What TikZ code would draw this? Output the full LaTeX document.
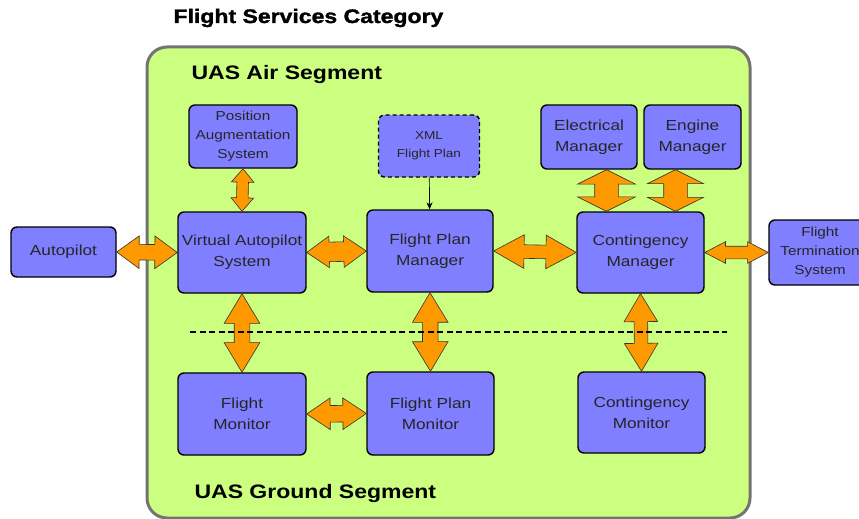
\documentclass[tikz,border=0pt]{standalone}
\usepackage{fontspec}
\setmainfont{Liberation Sans}[FakeStretch=1.18]
\newfontfamily\heavyfont{Liberation Sans}[FakeStretch=1.18,UprightFont=*-Bold,UprightFeatures={FakeBold=1.6}]
\usetikzlibrary{shapes.arrows,calc,arrows.meta}

\definecolor{boxblue}{HTML}{7F7FFF}
\definecolor{panelgreen}{HTML}{CCFF80}
\definecolor{arroworange}{HTML}{FF9900}

\tikzset{
  block/.style={draw=black,line width=1.4pt,fill=boxblue,rounded corners=6pt,
    align=center,inner sep=2pt,text=black!85,font=\fontsize{14.6}{21}\selectfont},
  smallblock/.style={block,font=\fontsize{13}{19}\selectfont},
  seglabel/.style={anchor=west,font=\fontsize{19.5}{23}\bfseries\selectfont},
  blockarrow/.style={double arrow,draw=black!80,line width=0.6pt,fill=arroworange,
    inner xsep=0pt,minimum width=0pt,double arrow head indent=0pt}
}

% fat two-headed arrow: from, to, head width, shaft width, tip angle
\newcommand{\fatarrow}[5]{%
  \path let \p1=(#1), \p2=(#2),
    \n1={veclen(\x2-\x1,\y2-\y1)}, \n2={atan2(\y2-\y1,\x2-\x1)} in
    node[blockarrow,minimum height=\n1,inner ysep={#4/2},
      double arrow head extend={(#3-#4)/2},double arrow tip angle=#5,
      rotate=\n2] at ($(#1)!0.5!(#2)$) {};}

\begin{document}
\begin{tikzpicture}[x=1pt,y=-1pt]
\useasboundingbox (0,0) rectangle (859,519);
\clip (0,0) rectangle (859,519);

\node[seglabel,font=\fontsize{19.5}{23}\heavyfont] (title) at (170,18) {Flight Services Category};
\draw[draw=black!55,line width=3pt,fill=panelgreen,rounded corners=20pt] (147,47) rectangle (750,518);
\node[seglabel] (air) at (188,75) {UAS Air Segment};
\node[seglabel] (ground) at (191,493) {UAS Ground Segment};

\node[smallblock,minimum width=108,minimum height=63] (pas) at (243,136.5) {Position\\Augmentation\\System};
\node[block,dashed,dash pattern=on 4pt off 3pt,minimum width=101,minimum height=62,
  font=\fontsize{11.5}{18}\selectfont] (xml) at (429,146) {XML\\Flight Plan};
\node[block,minimum width=96,minimum height=64] (elec) at (589,137) {Electrical\\Manager};
\node[block,minimum width=97,minimum height=64] (eng) at (692.5,137) {Engine\\Manager};
\node[block,minimum width=105,minimum height=50] (ap) at (63.5,252) {Autopilot};
\node[block,minimum width=128,minimum height=81] (vas) at (242,252.5) {Virtual Autopilot\\System};
\node[block,minimum width=126,minimum height=82] (fpm) at (430,251) {Flight Plan\\Manager};
\node[block,minimum width=127,minimum height=81] (cm) at (640.5,252.5) {Contingency\\Manager};
\node[smallblock,minimum width=102,minimum height=65] (fts) at (820,252.5) {Flight\\Termination\\System};
\node[block,minimum width=128,minimum height=82] (fmon) at (242,414) {Flight\\Monitor};
\node[block,minimum width=127,minimum height=83] (fpmon) at (430.5,413.5) {Flight Plan\\Monitor};
\node[block,minimum width=127,minimum height=81] (cmon) at (641.5,412.5) {Contingency\\Monitor};

\coordinate (e1) at ([xshift=-34pt]cm.north);
\coordinate (e0) at (e1 |- elec.south);
\coordinate (g1) at ([xshift=35pt]cm.north);
\coordinate (g0) at (g1 |- eng.south);

\fatarrow{ap.east}{vas.west}{32}{15}{72}
\fatarrow{vas.east}{fpm.west}{31}{19}{70}
\fatarrow{fpm.east}{cm.west}{33}{13}{58}
\fatarrow{cm.east}{fts.west}{21}{12}{55}
\fatarrow{fmon.east}{fpmon.west}{31}{16}{68}
\fatarrow{pas.south}{vas.north}{22}{11}{80}
\fatarrow{e0}{e1}{57}{23}{127}
\fatarrow{g0}{g1}{55}{23}{127}
\fatarrow{vas.south}{fmon.north}{35}{15}{62}
\fatarrow{fpm.south}{fpmon.north}{35}{15}{62}
\fatarrow{cm.south}{cmon.north}{33}{13}{62}

\draw[-{Stealth[length=7pt,width=6pt]},line width=0.7pt] (xml) -- (fpm);

\coordinate (sepL) at (190,332);
\coordinate (sepR) at (727,332);
\draw[line width=2.6pt,dash pattern=on 6pt off 3.5pt] (sepL) -- (sepR);
\end{tikzpicture}
\end{document}
